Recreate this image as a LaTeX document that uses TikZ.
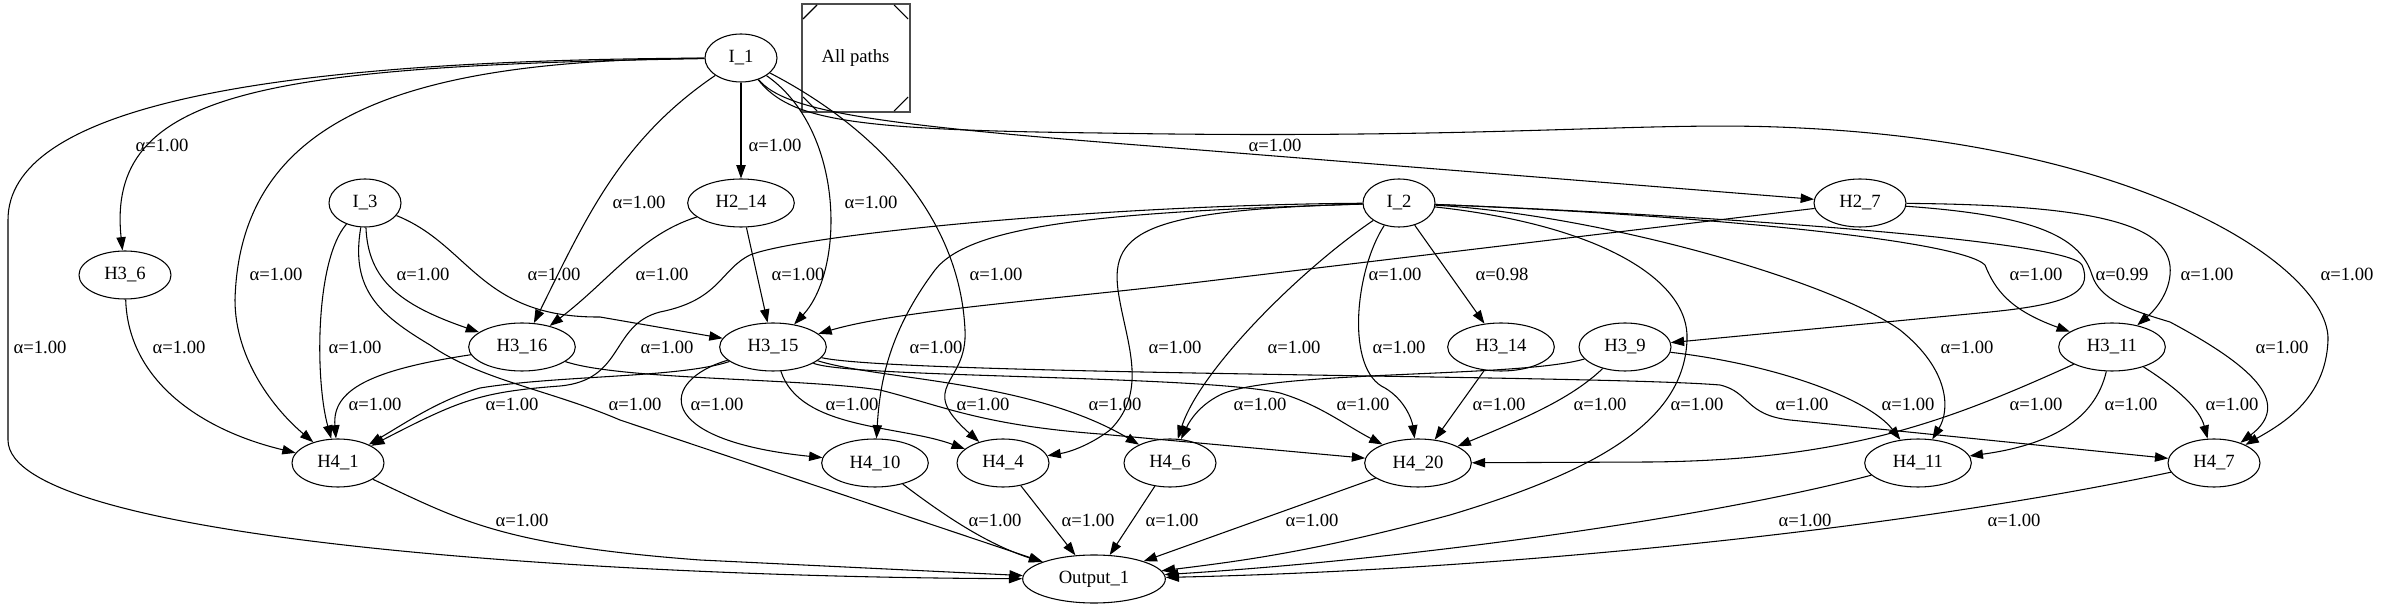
\documentclass[tikz,border=0pt]{standalone}
\usepackage{fontspec}
\setmainfont{Liberation Serif}
\usetikzlibrary{arrows.meta}
\usetikzlibrary{shapes.geometric}
\tikzset{
unit/.style={ % Sets the properties for each unit
ellipse, draw, thick, inner sep=0pt,
minimum width=69pt, minimum height=36pt},
inunit/.style={unit, minimum width=54pt},
wideunit/.style={unit, minimum width=80pt},
outunit/.style={unit, minimum width=107pt},
legendbox/.style={draw=black!70, line width=1.5pt, minimum width=81pt, minimum height=81pt},
weight/.style={inner sep=0pt}, % No frame round the alpha labels
link/.style={ % Sets the properties for each connection
draw, thick,
-{Triangle[length=10pt,width=7pt]}}}

\begin{document}
\begin{tikzpicture}[x=0.75pt, y=-0.75pt, font=\fontsize{14}{16}\selectfont]
\useasboundingbox (0,0) rectangle (2389,609);
% units
\node[inunit] (I1) at (741,58) {I\_1};
\node[legendbox] (allp) at (855.5,58) {All paths};
\node[inunit] (I3) at (365,203) {I\_3};
\node[wideunit] (H214) at (741,203) {H2\_14};
\node[inunit] (I2) at (1399,203) {I\_2};
\node[unit] (H27) at (1860,203) {H2\_7};
\node[unit] (H36) at (125,275) {H3\_6};
\node[wideunit] (H316) at (522,347) {H3\_16};
\node[wideunit] (H315) at (773,347) {H3\_15};
\node[wideunit] (H314) at (1501,347) {H3\_14};
\node[unit] (H39) at (1625,347) {H3\_9};
\node[wideunit] (H311) at (2112,347) {H3\_11};
\node[unit] (H41) at (338,463) {H4\_1};
\node[wideunit] (H410) at (875,463) {H4\_10};
\node[unit] (H44) at (1003,463) {H4\_4};
\node[unit] (H46) at (1170,463) {H4\_6};
\node[wideunit] (H420) at (1418,463) {H4\_20};
\node[wideunit] (H411) at (1918,463) {H4\_11};
\node[unit] (H47) at (2214,463) {H4\_7};
\node[outunit] (out) at (1094,579) {Output\_1};
% corner cuts of the legend box
\draw[thick] (803,19) -- (817,5);
\draw[thick] (908,19) -- (894,5);
\draw[thick] (803,97) -- (817,111);
\draw[thick] (908,97) -- (894,111);
% from I_1
\draw[link] (I1) .. controls (250,60) and (8,110) .. (8,220) -- (8,440) .. controls (8,540) and (600,577) .. (out);
\draw[link] (I1) .. controls (260,66) and (106,92) .. (H36);
\draw[link] (I1) .. controls (420,60) and (240,110) .. (235,300) .. controls (235,360) and (275,410) .. (H41);
\draw[link] (I1) .. controls (620,140) and (585,220) .. (H316);
\draw[link] (I1) -- (H214);
\draw[link] (I1) .. controls (845,130) and (845,270) .. (H315);
\draw[link] (I1) .. controls (880,130) and (960,220) .. (965,330) .. controls (968,385) and (915,385) .. (H44);
\draw[link] (I1) .. controls (785,112) and (880,125) .. (1150,146) -- (H27);
\draw[link] (I1) .. controls (790,120) and (850,130) .. (1100,133) .. controls (1500,140) and (1650,120) .. (1800,128) .. controls (2150,145) and (2330,270) .. (2328,340) .. controls (2326,400) and (2280,425) .. (H47);
% from I_3
\draw[link] (I3) .. controls (315,260) and (315,380) .. (H41);
\draw[link] (I3) .. controls (368,280) and (400,305) .. (H316);
\draw[link] (I3) .. controls (350,290) and (380,315) .. (430,345) .. controls (480,380) and (550,390) .. (620,420) -- (out);
\draw[link] (I3) .. controls (470,245) and (480,318) .. (600,317) -- (H315);
% from H2_14 and H2_7
\draw[link] (H214) .. controls (640,235) and (610,280) .. (H316);
\draw[link] (H214) -- (H315);
\draw[link] (H27) -- (1200,282) .. controls (1050,300) and (900,310) .. (H315);
\draw[link] (H27) .. controls (2100,205) and (2175,225) .. (2170,275) .. controls (2168,295) and (2155,310) .. (H311);
\draw[link] (H27) .. controls (2030,215) and (2080,235) .. (2092,275) .. controls (2100,300) and (2130,310) .. (2170,322) .. controls (2260,370) and (2290,405) .. (H47);
% from I_2
\draw[link] (I2) .. controls (1100,205) and (800,235) .. (750,255) .. controls (720,270) and (720,300) .. (660,312) .. controls (610,325) and (625,380) .. (560,386) .. controls (480,392) and (460,400) .. (H41);
\draw[link] (I2) .. controls (1100,212) and (970,225) .. (935,270) .. controls (890,330) and (880,380) .. (H410);
\draw[link] (I2) .. controls (1150,210) and (1110,230) .. (1118,290) .. controls (1125,340) and (1150,390) .. (1110,430) .. controls (1090,445) and (1070,452) .. (H44);
\draw[link] (I2) .. controls (1300,270) and (1200,370) .. (H46);
\draw[link] (I2) .. controls (1355,270) and (1345,370) .. (1385,388) .. controls (1405,400) and (1412,420) .. (H420);
\draw[link] (I2) -- (H314);
\draw[link] (I2) .. controls (1700,215) and (2070,240) .. (2082,265) .. controls (2095,295) and (2060,305) .. (1990,312) -- (H39);
\draw[link] (I2) .. controls (1700,215) and (1960,240) .. (1985,265) .. controls (1995,290) and (2010,310) .. (H311);
\draw[link] (I2) .. controls (1600,215) and (1830,280) .. (1900,330) .. controls (1950,370) and (1950,410) .. (H411);
\draw[link] (I2) .. controls (1600,225) and (1690,280) .. (1687,340) .. controls (1684,420) and (1600,470) .. (1450,515) .. controls (1320,550) and (1250,560) .. (out);
% from layer 3
\draw[link] (H36) .. controls (128,380) and (200,430) .. (H41);
\draw[link] (H316) .. controls (370,370) and (332,390) .. (H41);
\draw[link] (H316) .. controls (620,380) and (800,378) .. (880,390) .. controls (940,405) and (980,425) .. (1100,434) -- (H420);
\draw[link] (H315) .. controls (680,378) and (560,375) .. (480,388) .. controls (440,400) and (410,420) .. (H41);
\draw[link] (H315) .. controls (660,380) and (650,440) .. (H410);
\draw[link] (H315) .. controls (800,430) and (900,425) .. (H44);
\draw[link] (H315) .. controls (880,380) and (1030,380) .. (H46);
\draw[link] (H315) .. controls (850,378) and (1200,375) .. (1280,393) .. controls (1320,405) and (1345,425) .. (H420);
\draw[link] (H315) .. controls (900,375) and (1600,375) .. (1720,385) .. controls (1750,392) and (1745,415) .. (1790,420) -- (H47);
\draw[link] (H314) -- (H420);
\draw[link] (H39) .. controls (1520,378) and (1270,370) .. (1220,395) .. controls (1200,405) and (1190,420) .. (H46);
\draw[link] (H39) .. controls (1570,400) and (1520,420) .. (H420);
\draw[link] (H39) .. controls (1780,365) and (1870,400) .. (H411);
\draw[link] (H311) .. controls (1950,420) and (1850,460) .. (1650,462) -- (H420);
\draw[link] (H311) .. controls (2095,420) and (2050,445) .. (H411);
\draw[link] (H311) .. controls (2180,390) and (2200,410) .. (H47);
% into Output_1
\draw[link] (H41) .. controls (460,520) and (500,545) .. (700,560) -- (out);
\draw[link] (H410) .. controls (950,520) and (990,545) .. (out);
\draw[link] (H44) -- (out);
\draw[link] (H46) -- (out);
\draw[link] (H420) -- (out);
\draw[link] (H411) .. controls (1700,520) and (1400,560) .. (out);
\draw[link] (H47) .. controls (1900,530) and (1500,570) .. (out);
% weights
\node[weight] (w01) at (162,145) {α=1.00};
\node[weight] (w02) at (775,145) {α=1.00};
\node[weight] (w03) at (1275,145) {α=1.00};
\node[weight] (w04) at (639,202) {α=1.00};
\node[weight] (w05) at (871,202) {α=1.00};
\node[weight] (w06) at (276,274) {α=1.00};
\node[weight] (w07) at (423,274) {α=1.00};
\node[weight] (w08) at (554,274) {α=1.00};
\node[weight] (w09) at (662,274) {α=1.00};
\node[weight] (w10) at (798,274) {α=1.00};
\node[weight] (w11) at (996,274) {α=1.00};
\node[weight] (w12) at (1395,274) {α=1.00};
\node[weight] (w13) at (1502,274) {α=0.98};
\node[weight] (w14) at (2036,274) {α=1.00};
\node[weight] (w15) at (2122,274) {α=0.99};
\node[weight] (w16) at (2207,274) {α=1.00};
\node[weight] (w17) at (2347,274) {α=1.00};
\node[weight] (w18) at (40,347) {α=1.00};
\node[weight] (w19) at (179,347) {α=1.00};
\node[weight] (w20) at (355,347) {α=1.00};
\node[weight] (w21) at (667,347) {α=1.00};
\node[weight] (w22) at (936,347) {α=1.00};
\node[weight] (w23) at (1175,347) {α=1.00};
\node[weight] (w24) at (1294,347) {α=1.00};
\node[weight] (w25) at (1399,347) {α=1.00};
\node[weight] (w26) at (1967,347) {α=1.00};
\node[weight] (w27) at (2282,347) {α=1.00};
\node[weight] (w28) at (375,404) {α=1.00};
\node[weight] (w29) at (512,404) {α=1.00};
\node[weight] (w30) at (635,404) {α=1.00};
\node[weight] (w31) at (717,404) {α=1.00};
\node[weight] (w32) at (852,404) {α=1.00};
\node[weight] (w33) at (983,404) {α=1.00};
\node[weight] (w34) at (1115,404) {α=1.00};
\node[weight] (w35) at (1260,404) {α=1.00};
\node[weight] (w36) at (1363,404) {α=1.00};
\node[weight] (w37) at (1499,404) {α=1.00};
\node[weight] (w38) at (1600,404) {α=1.00};
\node[weight] (w39) at (1697,404) {α=1.00};
\node[weight] (w40) at (1802,404) {α=1.00};
\node[weight] (w41) at (1908,404) {α=1.00};
\node[weight] (w42) at (2036,404) {α=1.00};
\node[weight] (w43) at (2131,404) {α=1.00};
\node[weight] (w44) at (2232,404) {α=1.00};
\node[weight] (w45) at (522,520) {α=1.00};
\node[weight] (w46) at (995,520) {α=1.00};
\node[weight] (w47) at (1088,520) {α=1.00};
\node[weight] (w48) at (1172,520) {α=1.00};
\node[weight] (w49) at (1312,520) {α=1.00};
\node[weight] (w50) at (1805,520) {α=1.00};
\node[weight] (w51) at (2014,520) {α=1.00};
\end{tikzpicture}
\end{document}
